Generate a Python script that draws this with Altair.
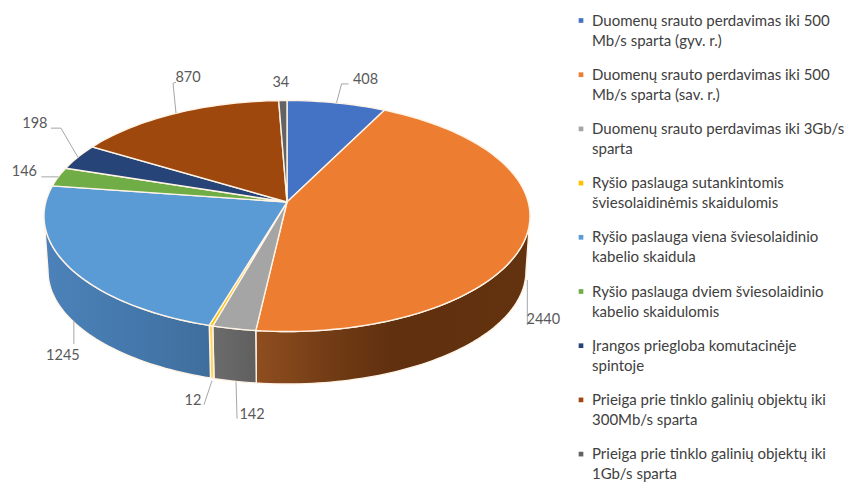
import math
import altair as alt
import pandas as pd

# ---- chart values ----
names = [
    "Duomenų srauto perdavimas iki 500|Mb/s sparta (gyv. r.)",
    "Duomenų srauto perdavimas iki 500|Mb/s sparta (sav. r.)",
    "Duomenų srauto perdavimas iki 3Gb/s|sparta",
    "Ryšio paslauga sutankintomis|šviesolaidinėmis skaidulomis",
    "Ryšio paslauga viena šviesolaidinio|kabelio skaidula",
    "Ryšio paslauga dviem šviesolaidinio|kabelio skaidulomis",
    "Įrangos prieglоba komutacinėje|spintoje".replace("о", "o"),
    "Prieiga prie tinklo galinių objektų iki|300Mb/s sparta",
    "Prieiga prie tinklo galinių objektų iki|1Gb/s sparta",
]
values = [408, 2440, 142, 12, 1245, 146, 198, 870, 34]
colors = ["#4472C4", "#ED7D31", "#A5A5A5", "#FFC000", "#5B9BD5", "#70AD47", "#264478", "#9E480E", "#636363"]
wall_stops = {
    1: [(0, "#8f4e1f"), (0.3, "#6f3a14"), (0.5, "#60300f"), (1, "#63330f")],
    2: [(0, "#6c6c6c"), (1, "#5f5f5f")],
    3: [(0, "#ffd65c"), (1, "#ffd65c")],
    4: [(0, "#4c82b9"), (0.5, "#4579ad"), (1, "#3f6e9c")],
}
# leader-line bends and label centre, relative to the slice's rim midpoint
leader_bends = [
    [(0, 0), (5, -19), (12, -19)],
    [(1, 44), (1, 89)],
    [(2, 53), (3, 90)],
    [(1, 55), (-7, 79)],
    [(4, 53), (4, 76)],
    [(0, 0), (-17, 0)],
    [(0, 0), (-17, -29), (-27, -29)],
    [(0, 0), (-3, -30), (0, -31)],
    [],
]
label_offsets = [(29, -23), (17, 84), (18, 86), (-18, 75), (-7, 88), (-34, -5), (-43, -33), (12, -35), (-2, -18)]

W, H = 839, 474
M = 8
AX, AY = 287.0, 202.0          # apex of the fan
CX, CY, RX, RY = 287.0, 216.0, 243.0, 115.5   # top rim
BY, BRX, BRY = 271.0, 239.0, 113.0            # bottom rim


def rim_param(theta):
    """Slice angle -> parameter on the rim ellipse, seen from the off-centre apex."""
    dx, dy = RX * math.sin(theta), -RY * math.cos(theta)
    oy = AY - CY
    a = (dx / RX) ** 2 + (dy / RY) ** 2
    b = 2 * oy * dy / RY ** 2
    c = (oy / RY) ** 2 - 1
    s = (-b + math.sqrt(b * b - 4 * a * c)) / (2 * a)
    px, py = dx * s, oy + dy * s
    t = math.atan2(px / RX, -py / RY)
    return t if t >= -1e-9 else t + 2 * math.pi


def top_pt(t):
    return [CX + RX * math.sin(t), CY - RY * math.cos(t)]


def bot_pt(t):
    return [CX + BRX * math.sin(t), BY - BRY * math.cos(t)]


def steps(a, b, n=None):
    n = n or max(2, int((b - a) / math.radians(1.5)) + 2)
    return [a + (b - a) * i / (n - 1) for i in range(n)]


total = sum(values)
edges = [0.0]
for v in values:
    edges.append(edges[-1] + v)
thetas = [e / total * 2 * math.pi for e in edges]
params = [rim_param(th) for th in thetas]
params[-1] = 2 * math.pi

top_features, wall_layers = [], []
STROKE = "#fff4e6"


def feature(ring, name):
    return {"type": "Feature", "properties": {"name": name},
            "geometry": {"type": "Polygon", "coordinates": [ring + [ring[0]]]}}


for i, name in enumerate(names):
    ring = [[AX, AY]] + [top_pt(t) for t in steps(params[i], params[i + 1])]
    top_features.append(feature(ring, name))
    a, b = max(params[i], math.pi / 2), min(params[i + 1], 3 * math.pi / 2)
    if i in wall_stops and b > a:
        ts = steps(a, b)
        wring = [top_pt(t) for t in ts] + [bot_pt(t) for t in reversed(ts)]
        grad = alt.Gradient(gradient="linear", x1=0, x2=1, y1=0, y2=0,
                            stops=[alt.GradientStop(offset=o, color=c) for o, c in wall_stops[i]])
        wall_layers.append(
            alt.Chart(alt.Data(values=[feature(wring, name)]))
            .mark_geoshape(fill=grad, stroke=STROKE, strokeWidth=1.4)
            .project(type="identity", scale=1, translate=[-M, -M])
        )

tops = (
    alt.Chart(alt.Data(values=top_features))
    .mark_geoshape(stroke=STROKE, strokeWidth=1.4)
    .encode(fill=alt.Fill("properties.name:N", scale=alt.Scale(domain=names, range=colors), legend=None))
    .project(type="identity", scale=1, translate=[-M, -M])
)

x_enc = lambda f: alt.X(f, type="quantitative", scale=alt.Scale(domain=[M, W + M], range=[0, W]), axis=None)
y_enc = lambda f: alt.Y(f, type="quantitative", scale=alt.Scale(domain=[M, H + M], range=[0, H]), axis=None)

rows_line, rows_label = [], []
for i, v in enumerate(values):
    mid = top_pt(rim_param((thetas[i] + thetas[i + 1]) / 2))
    for k, (dx, dy) in enumerate(leader_bends[i]):
        rows_line.append({"id": i, "k": k, "x": mid[0] + dx, "y": mid[1] + dy})
    rows_label.append({"x": mid[0] + label_offsets[i][0], "y": mid[1] + label_offsets[i][1], "label": str(v)})

leaders = (
    alt.Chart(pd.DataFrame(rows_line))
    .mark_line(color="#a6a6a6", strokeWidth=1)
    .encode(x=x_enc("x"), y=y_enc("y"), detail="id:N", order="k:Q")
)
labels = (
    alt.Chart(pd.DataFrame(rows_label))
    .mark_text(font="Lato", fontSize=14.5, color="#595959", align="center", baseline="middle")
    .encode(x=x_enc("x"), y=y_enc("y"), text="label:N")
)

LEG_Y0, LEG_STEP, LINE_STEP = 20.5, 54.2, 20.0
LEG_SX, LEG_TX = 581, 592.0
rows_sq, rows_txt = [], []
for i, name in enumerate(names):
    y = LEG_Y0 + LEG_STEP * i
    rows_sq.append({"x": LEG_SX, "y": y, "name": name})
    for j, part in enumerate(name.split("|")):
        rows_txt.append({"x": LEG_TX, "y": y + j * LINE_STEP, "line": part})

leg_sq = (
    alt.Chart(pd.DataFrame(rows_sq))
    .mark_square(size=22, opacity=1)
    .encode(x=x_enc("x"), y=y_enc("y"),
            color=alt.Color("name:N", scale=alt.Scale(domain=names, range=colors), legend=None))
)
leg_txt = (
    alt.Chart(pd.DataFrame(rows_txt))
    .mark_text(font="Lato", fontSize=15, color="#404040", align="left", baseline="middle")
    .encode(x=x_enc("x"), y=y_enc("y"), text="line:N")
)

chart = alt.layer(*wall_layers, tops, leaders, labels, leg_sq, leg_txt).properties(
    width=W, height=H, padding=0, autosize=alt.AutoSizeParams(type="none"),
).configure_view(stroke=None)

chart.save("out.html", embed_options={"renderer": "svg", "actions": False})
